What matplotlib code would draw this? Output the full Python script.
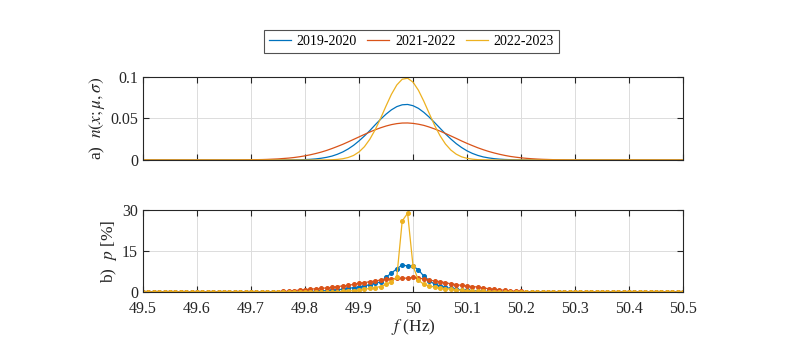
import numpy as np
import matplotlib
matplotlib.use("Agg")
import matplotlib.pyplot as plt

plt.rcParams["font.family"] = ["Liberation Serif", "DejaVu Serif"]
plt.rcParams["mathtext.fontset"] = "stix"

# frequency bins, 0.01 Hz apart
freq = np.round(np.arange(49.5, 50.5001, 0.01), 2)
labels = ["2019-2020", "2021-2022", "2022-2023"]
colors = ["#0072BD", "#D95319", "#EDB120"]

# a) fitted normal curves (49.50 ... 50.50)
n_1920 = [0.0] * 27 + [
    0.0001, 0.0002, 0.0003, 0.0005, 0.0008, 0.0013, 0.0021, 0.0032, 0.0047, 0.0069,
    0.0097, 0.0133, 0.0177, 0.0230, 0.0289, 0.0354, 0.0424, 0.0491, 0.0552, 0.0604,
    0.0643, 0.0665, 0.0669, 0.0654, 0.0622, 0.0574, 0.0516, 0.0451, 0.0383, 0.0315,
    0.0253, 0.0197, 0.0150, 0.0110, 0.0079, 0.0055, 0.0037, 0.0025, 0.0016, 0.0010,
    0.0006, 0.0004, 0.0002, 0.0001] + [0.0] * 30
n_2122 = [0.0] * 18 + [
    0.0001, 0.0002, 0.0003, 0.0004, 0.0005, 0.0007, 0.0010, 0.0013, 0.0018, 0.0023,
    0.0030, 0.0039, 0.0050, 0.0063, 0.0078, 0.0095, 0.0115, 0.0138, 0.0163, 0.0189,
    0.0218, 0.0248, 0.0278, 0.0308, 0.0337, 0.0364, 0.0388, 0.0409, 0.0426, 0.0438,
    0.0445, 0.0446, 0.0441, 0.0431, 0.0417, 0.0397, 0.0374, 0.0348, 0.0320, 0.0290,
    0.0260, 0.0229, 0.0200, 0.0173, 0.0147, 0.0124, 0.0103, 0.0085, 0.0069, 0.0055,
    0.0043, 0.0034, 0.0026, 0.0020, 0.0015, 0.0011, 0.0008, 0.0006, 0.0004, 0.0003,
    0.0002, 0.0001] + [0.0] * 21
n_2223 = [0.0] * 34 + [
    0.0001, 0.0003, 0.0007, 0.0015, 0.0030, 0.0055, 0.0097, 0.0160, 0.0250, 0.0365,
    0.0502, 0.0650, 0.0791, 0.0904, 0.0973, 0.0985, 0.0938, 0.0840, 0.0708, 0.0561,
    0.0417, 0.0293, 0.0193, 0.0120, 0.0070, 0.0038, 0.0020, 0.0010, 0.0004, 0.0002,
    0.0001] + [0.0] * 36

# b) measured share per bin [%]
p_1920 = [0.0] * 30 + [
    0.1, 0.2, 0.3, 0.4, 0.5, 0.6, 0.8, 1.0, 1.3, 1.6,
    1.9, 2.2, 2.7, 3.2, 3.7, 5.4, 6.9, 8.5, 9.9, 9.5,
    9.5, 8.1, 5.8, 4.2, 2.8, 2.2, 1.7, 1.3, 1.0, 0.8,
    0.6, 0.5, 0.4, 0.3, 0.2, 0.1, 0.1] + [0.0] * 34
p_2122 = [0.0] * 25 + [
    0.1, 0.2, 0.3, 0.5, 0.7, 0.9, 1.0, 1.2, 1.3, 1.5,
    1.7, 2.0, 2.2, 2.4, 2.8, 3.2, 3.4, 3.8, 4.0, 4.4,
    4.6, 4.8, 5.0, 5.0, 5.1, 5.3, 5.0, 4.8, 4.4, 4.0,
    3.8, 3.4, 3.0, 2.7, 2.4, 2.2, 2.0, 1.8, 1.5, 1.2,
    1.0, 0.8, 0.6, 0.4, 0.3, 0.2, 0.1, 0.1] + [0.0] * 28
p_2223 = [0.0] * 35 + [
    0.1, 0.15, 0.2, 0.3, 0.5, 0.7, 1.0, 1.3, 1.6, 2.0,
    2.8, 3.8, 5.5, 26.0, 28.8, 9.5, 4.3, 2.8, 2.2, 1.8,
    1.5, 1.2, 1.0, 0.8, 0.6, 0.5, 0.4, 0.3, 0.2, 0.1] + [0.0] * 36

curves = [n_1920, n_2122, n_2223]
shares = [p_1920, p_2122, p_2223]

fig = plt.figure(figsize=(7.87, 3.52), dpi=100)
ax1 = fig.add_axes([0.1817, 0.5455, 0.6862, 0.2358])
ax2 = fig.add_axes([0.1817, 0.1705, 0.6862, 0.2330])

lines = []
for y, c, lab in zip(curves, colors, labels):
    ln, = ax1.plot(freq, y, color=c, lw=0.9, label=lab)
    lines.append(ln)
for y, c in zip(shares, colors):
    ax2.plot(freq, y, color=c, lw=0.9, marker="o", ms=2.6, mec=c, mfc=c)

for ax in (ax1, ax2):
    ax.set_xlim(49.5, 50.5)
    ax.set_xticks(np.round(np.arange(49.5, 50.51, 0.1), 1))
    ax.grid(True, color="#dcdcdc", lw=0.7)
    ax.set_axisbelow(True)
    ax.tick_params(direction="in", top=True, right=True, length=4,
                   width=0.8, labelsize=11.5, colors="#262626")
    ax.tick_params(axis="x", pad=6.5)
    for s in ax.spines.values():
        s.set_color("#262626")
        s.set_linewidth(0.8)

ax1.set_ylim(0, 0.1)
ax1.set_yticks([0, 0.05, 0.1])
ax1.set_yticklabels(["0", "0.05", "0.1"])
ax1.tick_params(labelbottom=False)
ax1.set_ylabel(r"a)  $n(x;\mu,\sigma)$", fontsize=12.5, color="#262626", labelpad=2)

ax2.set_ylim(0, 30)
ax2.set_yticks([0, 15, 30])
ax2.set_xticklabels(["49.5", "49.6", "49.7", "49.8", "49.9", "50",
                     "50.1", "50.2", "50.3", "50.4", "50.5"])
ax2.set_ylabel(r"b)  $p$ [%]", fontsize=12.5, color="#262626", labelpad=2)
ax2.set_xlabel(r"$f$ (Hz)", fontsize=12.5, color="#262626", labelpad=0)

fig.align_ylabels([ax1, ax2])

leg = fig.legend(handles=lines, loc="center", bbox_to_anchor=(0.5225, 0.882),
                 ncol=3, fontsize=10, frameon=True, fancybox=False,
                 edgecolor="#262626", handlelength=1.6, columnspacing=0.75,
                 handletextpad=0.4, borderpad=0.35)
leg.get_frame().set_linewidth(0.8)

fig.savefig("out.png", dpi=100)
